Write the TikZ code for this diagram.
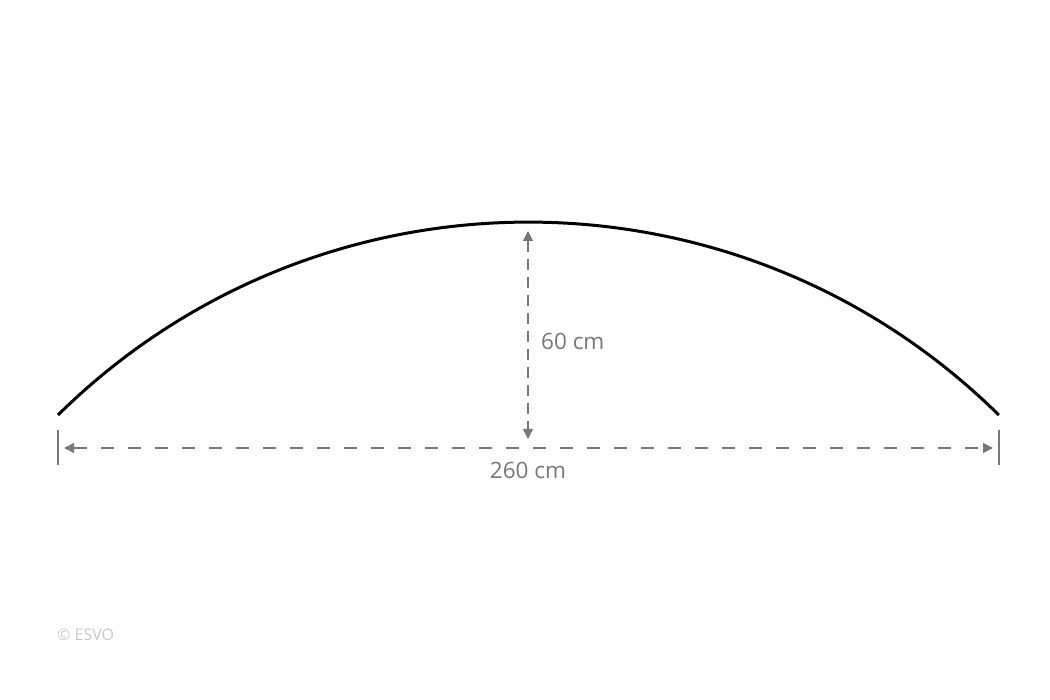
\documentclass[tikz,border=0pt]{standalone}
\usepackage{fontspec}
\setmainfont{Open Sans}
\usetikzlibrary{arrows.meta}
\definecolor{dimgray}{RGB}{120,120,120}
\definecolor{markgray}{RGB}{200,200,200}
\begin{document}
\begin{tikzpicture}
           [x=1pt,y=-1pt,
            dimline/.style={color=dimgray,line width=1.4pt,
              {Triangle[length=10pt,width=10pt]}-{Triangle[length=10pt,width=10pt]}},
            dimtext/.style={color=dimgray,font=\fontsize{22.5}{26}\selectfont,inner sep=0pt}]
           \useasboundingbox (0,0) rectangle (1050,700);

           \coordinate (L) at (58,415);
           \coordinate (R) at (999,415);
           \coordinate (T) at (528,222);

           % arch
           \draw[line width=3pt] (L) arc[start angle=225.4,end angle=314.6,radius=670];

           % width
           \draw[dimgray,line width=1.3pt] (58,430) -- (58,465);
           \draw[dimgray,line width=1.3pt] (999,430) -- (999,465);
           \coordinate (WL) at (64,448);
           \coordinate (WR) at (993,448);
           \draw[dimline,dash pattern=on 13pt off 14pt] (WL) -- (WR);
           \node[dimtext] (width) at (528,470) {260 cm};

           % height
           \coordinate (HT) at (528,231);
           \coordinate (HB) at (528,439);
           \draw[dimline,dash pattern=on 11pt off 7pt] (HT) -- (HB);
           \node[dimtext,anchor=west] (height) at (541,341) {60 cm};

           \node[color=markgray,font=\fontsize{16}{18}\selectfont,anchor=west,inner sep=0pt] (mark) at (57,635) {© ESVO};
         \end{tikzpicture}
\end{document}
